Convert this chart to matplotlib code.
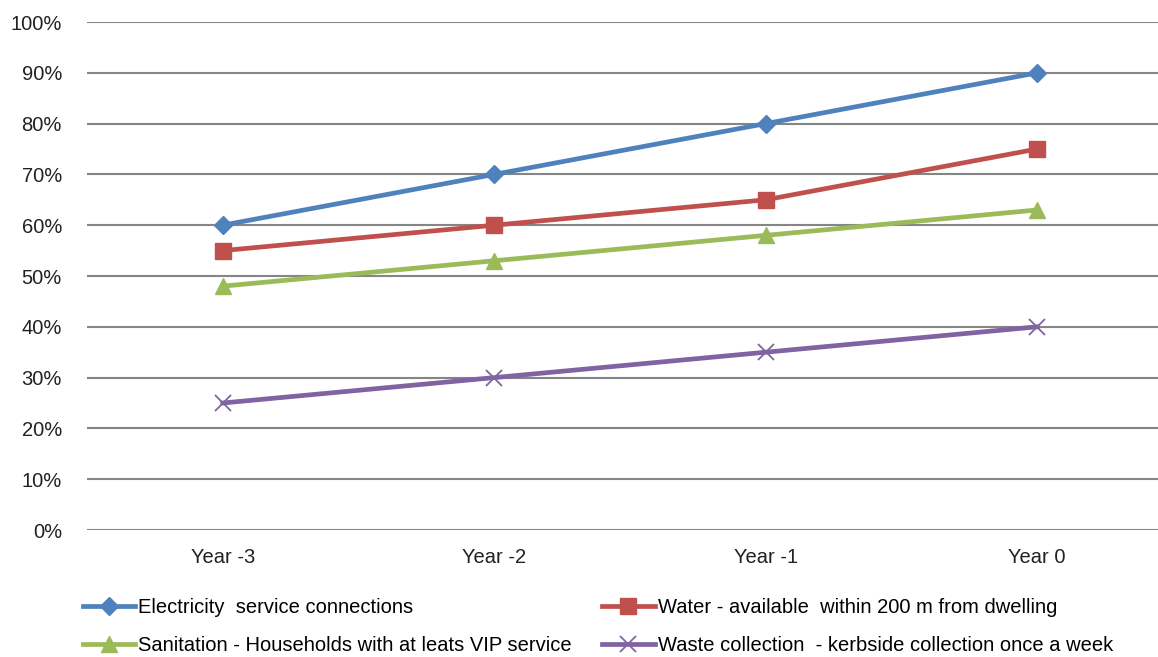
import matplotlib.pyplot as plt
from matplotlib.ticker import PercentFormatter

plt.rcParams['font.family'] = ['Liberation Sans', 'DejaVu Sans']

# service levels per year
years = ['Year -3', 'Year -2', 'Year -1', 'Year 0']
electricity = [60, 70, 80, 90]
water = [55, 60, 65, 75]
sanitation = [48, 53, 58, 63]
waste = [25, 30, 35, 40]

names = ['Electricity  service connections',
         'Water - available  within 200 m from dwelling',
         'Sanitation - Households with at leats VIP service',
         'Waste collection  - kerbside collection once a week']

W, H = 1158, 657
fig = plt.figure(figsize=(W / 100, H / 100), dpi=100)
left, right, top, bottom = 87, 1158, 22, 530
ax = fig.add_axes([left / W, 1 - bottom / H, (right - left) / W, (bottom - top) / H])

x = range(len(years))
lw = 3.4
l1, = ax.plot(x, electricity, color='#4F81BD', lw=lw, marker='D', ms=9, zorder=3)
l2, = ax.plot(x, water, color='#C0504D', lw=lw, marker='s', ms=11, zorder=3)
l3, = ax.plot(x, sanitation, color='#9BBB59', lw=lw, marker='^', ms=12, zorder=3)
l4, = ax.plot(x, waste, color='#8064A2', lw=lw, marker='x', ms=11, mew=1.3, zorder=3)

# plot area runs past the right edge of the figure
ax.set_xlim(-0.5, -0.5 + (right - left) / 271.5)
ax.set_ylim(0, 100)
ax.set_yticks(range(0, 101, 10))
ax.yaxis.set_major_formatter(PercentFormatter(decimals=0))
ax.set_xticks(list(x))
ax.set_xticklabels(years)
ax.tick_params(axis='both', length=0, labelsize=14.5, colors='#222222')
ax.tick_params(axis='y', pad=18)
ax.tick_params(axis='x', pad=13)
ax.grid(axis='y', color='#858585', lw=1.5)
ax.set_axisbelow(True)
for s in ax.spines.values():
    s.set_visible(False)

fig.legend([l1, l3, l2, l4], [names[0], names[2], names[1], names[3]],
           ncol=2, loc='upper left', bbox_to_anchor=(75 / W, 1 - 590 / H),
           frameon=False, fontsize=14.5, handlelength=2.6, handletextpad=0.15,
           columnspacing=1.5, labelspacing=0.95, borderaxespad=0)

fig.savefig('out.png', dpi=100)
